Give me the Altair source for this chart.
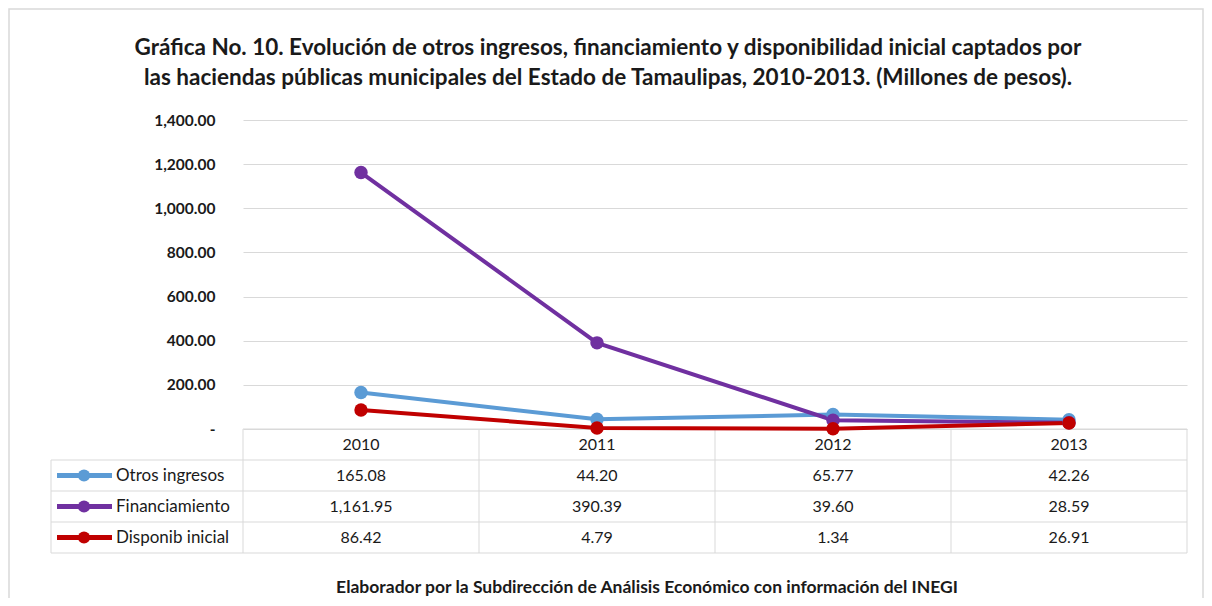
import altair as alt
import pandas as pd

years = ["2010", "2011", "2012", "2013"]
series = ["Otros ingresos", "Financiamiento", "Disponib inicial"]
otros_ingresos = [165.08, 44.20, 65.77, 42.26]
financiamiento = [1161.95, 390.39, 39.60, 28.59]
disponib_inicial = [86.42, 4.79, 1.34, 26.91]
colors = ["#5B9BD5", "#7030A0", "#C00000"]
y_ticks = [0, 200, 400, 600, 800, 1000, 1200, 1400]
title_lines = [
    "Gráfica No. 10. Evolución de otros ingresos, financiamiento y disponibilidad inicial captados por",
    "las haciendas públicas municipales del Estado de Tamaulipas,  2010-2013. (Millones de pesos).",
]
caption = "Elaborador por la Subdirección de Análisis Económico con información del INEGI"

FONT = "Lato"
GRID = "#D9D9D9"
TXT = "#1a1a1a"
W, H = 944, 309
TABLE_TOP, TABLE_BOTTOM = 309, 433
LEFT_COL = -192

rows = []
for s, vals in zip(series, [otros_ingresos, financiamiento, disponib_inicial]):
    for i, (yr, v) in enumerate(zip(years, vals)):
        rows.append({"year": yr, "series": s, "value": v, "order": i,
                     "row": s, "label": f"{v:,.2f}"})
df = pd.DataFrame(rows)
header = pd.DataFrame({"year": years, "row": ["hdr"] * len(years), "label": years})
legend_df = pd.DataFrame({"series": series, "row": series})
row_domain = ["hdr"] + series

x_scale = alt.Scale(type="band", domain=years, paddingInner=0, paddingOuter=0)
x_enc = alt.X("year:N", scale=x_scale, axis=None)
color_enc = alt.Color("series:N", scale=alt.Scale(domain=series, range=colors), legend=None)


def row_y(**kw):
    return alt.Y("row:N", scale=alt.Scale(type="band", domain=row_domain,
                                          range=[TABLE_TOP, TABLE_BOTTOM],
                                          paddingInner=0, paddingOuter=0),
                 axis=None, **kw)


y_val = alt.Y("value:Q", scale=alt.Scale(domain=[0, 1400], nice=False),
              axis=alt.Axis(values=y_ticks, grid=True, gridColor=GRID, domain=False,
                            ticks=False, labelPadding=28, labelFont=FONT,
                            labelFontSize=15.5, labelFontWeight="bold", labelColor=TXT,
                            labelExpr="datum.value == 0 ? '-\u00a0\u00a0' : format(datum.value, ',.2f')",
                            title=None))

lines = alt.Chart(df).mark_line(strokeWidth=4).encode(
    x=x_enc, y=y_val, color=color_enc, detail="series:N", order="order:Q")
points = alt.Chart(df).mark_circle(size=180, opacity=1).encode(
    x=x_enc, y=y_val, color=color_enc)
main = alt.layer(lines, points)

# table
header_text = alt.Chart(header).mark_text(font=FONT, fontSize=16, color=TXT).encode(
    x=x_enc, y=row_y(), text="label:N")
cell_text = alt.Chart(df).mark_text(font=FONT, fontSize=16, color=TXT).encode(
    x=x_enc, y=row_y(), text="label:N")
vlines = alt.Chart(header).mark_rule(color=GRID, strokeWidth=1).encode(
    x=alt.X("year:N", scale=x_scale, axis=None, bandPosition=0),
    y=alt.value(TABLE_TOP), y2=alt.value(TABLE_BOTTOM))
right_line = alt.Chart(header.head(1)).mark_rule(color=GRID, strokeWidth=1).encode(
    x=alt.value(W), y=alt.value(TABLE_TOP), y2=alt.value(TABLE_BOTTOM))
header_top = alt.Chart(header.head(1)).mark_rule(color=GRID, strokeWidth=1).encode(
    x=alt.value(0), x2=alt.value(W), y=row_y(bandPosition=0))
row_lines = alt.Chart(legend_df).mark_rule(color=GRID, strokeWidth=1).encode(
    x=alt.value(LEFT_COL), x2=alt.value(W), y=row_y(bandPosition=0))
bottom_line = alt.Chart(legend_df.head(1)).mark_rule(color=GRID, strokeWidth=1).encode(
    x=alt.value(LEFT_COL), x2=alt.value(W), y=alt.value(TABLE_BOTTOM))
left_line = alt.Chart(legend_df.head(1)).mark_rule(color=GRID, strokeWidth=1).encode(
    x=alt.value(LEFT_COL), y=alt.value(TABLE_TOP + 31), y2=alt.value(TABLE_BOTTOM))

leg_line = alt.Chart(legend_df).mark_rule(strokeWidth=5).encode(
    x=alt.value(-186), x2=alt.value(-131), y=row_y(), color=color_enc)
leg_pt = alt.Chart(legend_df).mark_circle(size=150, opacity=1).encode(
    x=alt.value(-159), y=row_y(), color=color_enc)
leg_txt = alt.Chart(legend_df).mark_text(font=FONT, fontSize=17, align="left",
                                         color=TXT).encode(
    x=alt.value(-127), y=row_y(), text="series:N")

one = pd.DataFrame({"k": [0]})
title = alt.Chart(one).mark_text(text=title_lines, font=FONT, fontSize=22.5, fontWeight="bold",
                                 lineHeight=30, align="center", baseline="middle",
                                 color=TXT).encode(
    x=alt.value(365), y=alt.value(-72))
cap = alt.Chart(one).mark_text(text=caption, font=FONT, fontSize=17.5, fontWeight="bold",
                               align="center", baseline="middle", color=TXT).encode(
    x=alt.value(404), y=alt.value(468))
frame = alt.Chart(one).mark_rect(fill=None, stroke=GRID, strokeWidth=1.5).encode(
    x=alt.value(-234), x2=alt.value(960), y=alt.value(-111), y2=alt.value(600))

table = alt.layer(vlines, right_line, header_top, row_lines, bottom_line, left_line,
                  header_text, cell_text, leg_line, leg_pt, leg_txt)

chart = alt.layer(frame, title, cap, table, main).resolve_scale(y="independent").properties(
    width=W, height=H,
    padding={"left": 235, "top": 112, "right": 17, "bottom": 169},
    autosize=alt.AutoSizeParams(type="none"),
    background="white",
).configure_view(stroke=None)

chart.save("out.html", embed_options={"renderer": "svg", "actions": False})
